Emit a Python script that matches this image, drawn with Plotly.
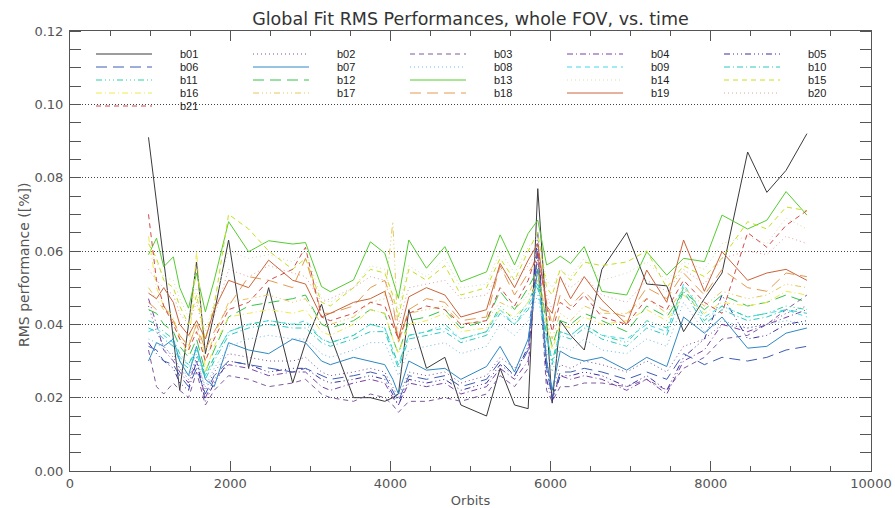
import plotly.graph_objects as go

# Orbit numbers of the global fits
orbits = [980, 1080, 1170, 1290, 1370, 1480, 1580, 1690, 1800, 1980,
          2230, 2480, 2780, 2940, 3140, 3250, 3540, 3750, 3930, 4030,
          4100, 4230, 4450, 4680, 4880, 5200, 5370, 5550, 5720, 5840,
          5950, 6020, 6120, 6250, 6420, 6640, 6950, 7200, 7450, 7660,
          7920, 8140, 8460, 8700, 8940, 9200]

# RMS performance [%] per band
b01 = [0.091, 0.073, 0.057, 0.036, 0.022, 0.040, 0.057, 0.032, 0.043, 0.063, 0.028, 0.050, 0.024, 0.035, 0.0455, 0.037, 0.020, 0.020, 0.019, 0.020, 0.021, 0.044, 0.028, 0.031, 0.018, 0.015, 0.028, 0.018, 0.017, 0.077, 0.040, 0.0185, 0.041, 0.037, 0.033, 0.055, 0.065, 0.051, 0.0505, 0.038, 0.047, 0.054, 0.087, 0.076, 0.082, 0.092]
b02 = [0.045, 0.038, 0.034, 0.031, 0.028, 0.025, 0.031, 0.022, 0.027, 0.032, 0.031, 0.030, 0.030, 0.031, 0.027, 0.026, 0.027, 0.028, 0.027, 0.023, 0.020, 0.027, 0.026, 0.027, 0.024, 0.026, 0.031, 0.028, 0.033, 0.058, 0.030, 0.022, 0.029, 0.028, 0.030, 0.029, 0.027, 0.030, 0.027, 0.034, 0.036, 0.040, 0.039, 0.040, 0.043, 0.045]
b03 = [0.033, 0.023, 0.021, 0.024, 0.022, 0.020, 0.027, 0.018, 0.022, 0.026, 0.025, 0.023, 0.024, 0.025, 0.021, 0.020, 0.019, 0.021, 0.020, 0.018, 0.016, 0.019, 0.019, 0.020, 0.019, 0.021, 0.026, 0.023, 0.028, 0.060, 0.022, 0.019, 0.023, 0.023, 0.024, 0.024, 0.023, 0.025, 0.022, 0.028, 0.031, 0.036, 0.037, 0.040, 0.044, 0.048]
b04 = [0.047, 0.040, 0.033, 0.030, 0.027, 0.024, 0.030, 0.020, 0.025, 0.029, 0.028, 0.026, 0.027, 0.027, 0.023, 0.022, 0.024, 0.025, 0.024, 0.020, 0.018, 0.024, 0.023, 0.024, 0.021, 0.023, 0.028, 0.025, 0.030, 0.062, 0.030, 0.020, 0.026, 0.025, 0.026, 0.025, 0.022, 0.025, 0.021, 0.030, 0.033, 0.040, 0.038, 0.040, 0.042, 0.044]
b05 = [0.035, 0.032, 0.030, 0.028, 0.024, 0.022, 0.030, 0.019, 0.024, 0.030, 0.029, 0.027, 0.028, 0.028, 0.025, 0.024, 0.025, 0.026, 0.025, 0.021, 0.018, 0.025, 0.024, 0.025, 0.022, 0.024, 0.029, 0.026, 0.034, 0.065, 0.025, 0.019, 0.026, 0.026, 0.027, 0.026, 0.023, 0.026, 0.022, 0.031, 0.036, 0.048, 0.036, 0.037, 0.040, 0.041]
b06 = [0.034, 0.033, 0.030, 0.029, 0.026, 0.023, 0.028, 0.021, 0.026, 0.030, 0.029, 0.028, 0.027, 0.028, 0.026, 0.025, 0.026, 0.027, 0.026, 0.022, 0.019, 0.026, 0.025, 0.026, 0.023, 0.025, 0.030, 0.026, 0.033, 0.060, 0.028, 0.020, 0.027, 0.027, 0.028, 0.027, 0.025, 0.027, 0.025, 0.032, 0.029, 0.031, 0.030, 0.031, 0.033, 0.034]
b07 = [0.030, 0.035, 0.034, 0.036, 0.030, 0.026, 0.034, 0.025, 0.023, 0.035, 0.033, 0.032, 0.036, 0.035, 0.030, 0.029, 0.031, 0.030, 0.029, 0.025, 0.021, 0.030, 0.0275, 0.028, 0.025, 0.0285, 0.034, 0.027, 0.036, 0.055, 0.030, 0.022, 0.0327, 0.031, 0.030, 0.031, 0.0275, 0.031, 0.0285, 0.042, 0.0376, 0.042, 0.0335, 0.034, 0.0376, 0.039]
b08 = [0.036, 0.035, 0.033, 0.032, 0.028, 0.026, 0.030, 0.023, 0.028, 0.034, 0.036, 0.037, 0.036, 0.036, 0.032, 0.031, 0.033, 0.035, 0.035, 0.030, 0.026, 0.033, 0.034, 0.035, 0.032, 0.034, 0.040, 0.037, 0.041, 0.048, 0.033, 0.027, 0.034, 0.033, 0.036, 0.033, 0.032, 0.036, 0.034, 0.046, 0.038, 0.041, 0.039, 0.040, 0.041, 0.040]
b09 = [0.038, 0.039, 0.037, 0.035, 0.031, 0.029, 0.033, 0.026, 0.031, 0.038, 0.040, 0.041, 0.040, 0.041, 0.036, 0.035, 0.037, 0.040, 0.039, 0.033, 0.029, 0.037, 0.038, 0.039, 0.036, 0.038, 0.044, 0.040, 0.045, 0.051, 0.037, 0.030, 0.038, 0.037, 0.040, 0.037, 0.036, 0.040, 0.038, 0.051, 0.042, 0.045, 0.042, 0.043, 0.044, 0.042]
b10 = [0.039, 0.038, 0.036, 0.034, 0.030, 0.028, 0.032, 0.025, 0.030, 0.037, 0.039, 0.040, 0.039, 0.039, 0.035, 0.034, 0.036, 0.038, 0.038, 0.032, 0.028, 0.036, 0.037, 0.038, 0.035, 0.037, 0.043, 0.040, 0.044, 0.050, 0.036, 0.029, 0.037, 0.036, 0.039, 0.036, 0.034, 0.039, 0.037, 0.049, 0.040, 0.044, 0.041, 0.042, 0.044, 0.043]
b11 = [0.041, 0.040, 0.038, 0.036, 0.032, 0.029, 0.034, 0.026, 0.031, 0.038, 0.040, 0.041, 0.040, 0.040, 0.036, 0.035, 0.037, 0.040, 0.039, 0.033, 0.029, 0.037, 0.038, 0.040, 0.036, 0.038, 0.045, 0.041, 0.046, 0.052, 0.037, 0.030, 0.038, 0.037, 0.040, 0.037, 0.035, 0.041, 0.039, 0.050, 0.041, 0.045, 0.042, 0.043, 0.045, 0.044]
b12 = [0.044, 0.043, 0.040, 0.038, 0.034, 0.031, 0.036, 0.027, 0.033, 0.042, 0.045, 0.046, 0.047, 0.048, 0.040, 0.039, 0.041, 0.044, 0.043, 0.036, 0.032, 0.041, 0.042, 0.044, 0.039, 0.041, 0.049, 0.044, 0.050, 0.055, 0.040, 0.034, 0.041, 0.040, 0.043, 0.041, 0.038, 0.045, 0.042, 0.049, 0.044, 0.048, 0.045, 0.046, 0.048, 0.046]
b13 = [0.059, 0.0635, 0.0557, 0.0584, 0.050, 0.0444, 0.054, 0.0434, 0.052, 0.068, 0.0598, 0.0628, 0.0619, 0.0623, 0.0503, 0.0489, 0.0521, 0.0625, 0.0594, 0.052, 0.0471, 0.063, 0.0553, 0.0612, 0.0516, 0.0543, 0.0644, 0.0562, 0.0648, 0.0684, 0.0562, 0.057, 0.0586, 0.0566, 0.0612, 0.049, 0.048, 0.0598, 0.0534, 0.058, 0.0571, 0.0698, 0.066, 0.0684, 0.0762, 0.0698]
b14 = [0.060, 0.057, 0.053, 0.052, 0.047, 0.042, 0.050, 0.038, 0.046, 0.060, 0.058, 0.059, 0.057, 0.060, 0.047, 0.046, 0.050, 0.056, 0.055, 0.047, 0.044, 0.056, 0.053, 0.058, 0.050, 0.051, 0.060, 0.054, 0.061, 0.064, 0.052, 0.050, 0.055, 0.053, 0.058, 0.052, 0.054, 0.057, 0.052, 0.057, 0.055, 0.062, 0.064, 0.062, 0.069, 0.066]
b15 = [0.062, 0.058, 0.052, 0.050, 0.045, 0.040, 0.048, 0.036, 0.045, 0.070, 0.066, 0.060, 0.055, 0.058, 0.046, 0.045, 0.050, 0.055, 0.054, 0.048, 0.042, 0.055, 0.052, 0.056, 0.048, 0.050, 0.058, 0.052, 0.060, 0.065, 0.050, 0.048, 0.055, 0.052, 0.057, 0.056, 0.057, 0.060, 0.050, 0.056, 0.053, 0.058, 0.068, 0.066, 0.072, 0.071]
b16 = [0.064, 0.050, 0.045, 0.042, 0.036, 0.032, 0.060, 0.027, 0.034, 0.042, 0.043, 0.044, 0.043, 0.044, 0.038, 0.037, 0.040, 0.044, 0.043, 0.036, 0.032, 0.040, 0.041, 0.043, 0.038, 0.039, 0.044, 0.042, 0.046, 0.052, 0.040, 0.033, 0.040, 0.039, 0.042, 0.040, 0.041, 0.044, 0.041, 0.048, 0.043, 0.046, 0.045, 0.046, 0.049, 0.048]
b17 = [0.050, 0.047, 0.044, 0.041, 0.037, 0.034, 0.040, 0.030, 0.037, 0.046, 0.047, 0.048, 0.046, 0.047, 0.040, 0.040, 0.042, 0.046, 0.047, 0.068, 0.035, 0.043, 0.044, 0.045, 0.040, 0.041, 0.046, 0.044, 0.048, 0.054, 0.042, 0.036, 0.043, 0.041, 0.045, 0.043, 0.043, 0.047, 0.043, 0.050, 0.045, 0.049, 0.047, 0.048, 0.051, 0.050]
b18 = [0.046, 0.044, 0.045, 0.041, 0.037, 0.034, 0.040, 0.033, 0.038, 0.045, 0.053, 0.052, 0.050, 0.058, 0.043, 0.043, 0.045, 0.050, 0.052, 0.046, 0.035, 0.044, 0.047, 0.046, 0.041, 0.042, 0.056, 0.048, 0.054, 0.058, 0.046, 0.040, 0.048, 0.045, 0.049, 0.044, 0.042, 0.050, 0.047, 0.054, 0.048, 0.055, 0.050, 0.049, 0.054, 0.053]
b19 = [0.0485, 0.047, 0.050, 0.046, 0.040, 0.037, 0.041, 0.036, 0.044, 0.052, 0.050, 0.0575, 0.052, 0.051, 0.042, 0.043, 0.046, 0.047, 0.049, 0.041, 0.036, 0.0475, 0.050, 0.048, 0.042, 0.044, 0.0566, 0.050, 0.0575, 0.062, 0.045, 0.043, 0.053, 0.047, 0.053, 0.0466, 0.040, 0.0548, 0.046, 0.063, 0.049, 0.0598, 0.052, 0.054, 0.055, 0.052]
b20 = [0.055, 0.052, 0.050, 0.048, 0.043, 0.040, 0.046, 0.036, 0.042, 0.055, 0.053, 0.056, 0.054, 0.053, 0.046, 0.047, 0.050, 0.053, 0.052, 0.045, 0.040, 0.050, 0.051, 0.052, 0.047, 0.048, 0.055, 0.052, 0.056, 0.060, 0.048, 0.044, 0.052, 0.050, 0.053, 0.048, 0.046, 0.052, 0.049, 0.055, 0.051, 0.058, 0.060, 0.059, 0.064, 0.062]
b21 = [0.070, 0.052, 0.045, 0.040, 0.036, 0.033, 0.038, 0.030, 0.036, 0.044, 0.046, 0.052, 0.055, 0.061, 0.042, 0.041, 0.043, 0.046, 0.045, 0.040, 0.036, 0.043, 0.045, 0.044, 0.040, 0.041, 0.050, 0.045, 0.052, 0.060, 0.045, 0.038, 0.046, 0.044, 0.048, 0.042, 0.040, 0.047, 0.044, 0.052, 0.046, 0.043, 0.065, 0.061, 0.067, 0.071]

band_names = ["b01", "b02", "b03", "b04", "b05", "b06", "b07", "b08", "b09", "b10",
              "b11", "b12", "b13", "b14", "b15", "b16", "b17", "b18", "b19", "b20", "b21"]
band_values = [b01, b02, b03, b04, b05, b06, b07, b08, b09, b10,
               b11, b12, b13, b14, b15, b16, b17, b18, b19, b20, b21]

band_colors = ["#3a3a3a", "#7a4f94", "#7d5a9c", "#7a3fa8", "#3c2f9e", "#3d5bb4",
               "#2f88c4", "#6db8e6", "#3fd8ec", "#2cc8c0", "#2ccf9e", "#36c24a",
               "#55cc30", "#d8dcb0", "#c4e01c", "#eeea4c", "#e6c65a", "#e49a50",
               "#c9643a", "#e0a0a0", "#d24a4a"]

# solid, dotted, dashed, dash-dot, dash-dot-dot-dot, long dashes (cycled)
line_styles = ["solid", "1px,3px", "5px,4px", "6px,3px,1px,3px",
               "6px,3px,1px,3px,1px,3px,1px,3px", "11px,6px"]

x_ticks = [0, 2000, 4000, 6000, 8000, 10000]
x_ticktext = ["0", "2000", "4000", "6000", "8000", "10000"]
y_ticks = [0, 0.02, 0.04, 0.06, 0.08, 0.10, 0.12]

for vals in band_values:
    assert len(vals) == len(orbits)

W, H = 895, 508
L, R, T, B = 70, 24, 31, 37
PW, PH = W - L - R, H - T - B

axis_font = dict(family="DejaVu Sans", size=13, color="#555555")
frame_color = "#555555"

fig = go.Figure()
for i, (name, vals) in enumerate(zip(band_names, band_values)):
    fig.add_trace(go.Scatter(
        x=orbits, y=vals, mode="lines", name=name, showlegend=False,
        line=dict(color=band_colors[i], width=1, dash=line_styles[i % 6]),
    ))

# empty trace that carries the top / right tick axes
fig.add_trace(go.Scatter(x=[], y=[], xaxis="x2", yaxis="y2",
                         showlegend=False, hoverinfo="skip"))


def px_to_paper(px, py):
    return (px - L) / PW, (H - B - py) / PH


# Key drawn inside the plot area: 5 columns, row-major order
for i, name in enumerate(band_names):
    row, col = divmod(i, 5)
    x0 = 96 + 157 * col
    y = 54 + 13 * row
    ax0, ay = px_to_paper(x0, y)
    ax1, _ = px_to_paper(x0 + 56, y)
    alab, _ = px_to_paper(x0 + 82, y)
    fig.add_shape(type="line", xref="paper", yref="paper",
                  x0=ax0, x1=ax1, y0=ay, y1=ay,
                  line=dict(color=band_colors[i], width=1, dash=line_styles[i % 6]))
    fig.add_annotation(text=name, xref="paper", yref="paper", x=alab, y=ay,
                       xanchor="left", yanchor="middle", showarrow=False,
                       font=dict(family="Liberation Sans", size=11, color="#222222"))

# y-axis caption
ytx, yty = px_to_paper(24, 265)
fig.add_annotation(text="RMS performance ([%])", xref="paper", yref="paper",
                   x=ytx, y=yty, xanchor="center", yanchor="middle",
                   textangle=-90, showarrow=False,
                   font=dict(family="DejaVu Sans", size=14, color="#555555"))

fig.update_layout(
    width=W, height=H,
    margin=dict(l=L, r=R, t=T, b=B, autoexpand=False),
    paper_bgcolor="white", plot_bgcolor="white",
    title=dict(text="Global Fit RMS Performances, whole FOV, vs. time",
               x=0.5, xref="paper", xanchor="center",
               y=1 - 18.5 / H, yref="container", yanchor="middle",
               font=dict(family="DejaVu Sans", size=17.5, color="#333333")),
    xaxis=dict(range=[0, 10000], tickmode="array", automargin=False,
               tickvals=x_ticks, ticktext=x_ticktext,
               ticks="inside", ticklen=10, tickwidth=1, tickcolor=frame_color,
               minor=dict(dtick=500, ticks="inside", ticklen=5,
                          tickcolor=frame_color, showgrid=False),
               showline=True, linecolor=frame_color, linewidth=1, mirror=True,
               showgrid=False, zeroline=False, tickfont=axis_font,
               title=dict(text="Orbits", font=axis_font, standoff=9)),
    yaxis=dict(range=[0, 0.12], tickmode="array", automargin=False,
               tickvals=y_ticks,
               tickformat=".2f", ticks="", ticklabelstandoff=3,
               minor=dict(dtick=0.005, ticks="inside", ticklen=11,
                          tickcolor=frame_color, showgrid=False),
               showline=True, linecolor=frame_color, linewidth=1, mirror=True,
               showgrid=True, gridcolor="#444444", gridwidth=1, griddash="1px,2px",
               zeroline=False, tickfont=axis_font),
    xaxis2=dict(range=[0, 10000], overlaying="x", side="top", anchor="y2",
                automargin=False,
                tickmode="array", tickvals=x_ticks, showticklabels=False,
                ticks="inside", ticklen=10, tickcolor=frame_color,
                minor=dict(dtick=500, ticks="inside", ticklen=5,
                           tickcolor=frame_color, showgrid=False),
                showline=False, showgrid=False, zeroline=False),
    yaxis2=dict(range=[0, 0.12], overlaying="y", side="right", anchor="x2",
                automargin=False,
                tickmode="array", tickvals=y_ticks, showticklabels=False,
                ticks="",
                minor=dict(dtick=0.005, ticks="inside", ticklen=11,
                           tickcolor=frame_color, showgrid=False),
                showline=False, showgrid=False, zeroline=False),
)

fig.write_html("out.html")
